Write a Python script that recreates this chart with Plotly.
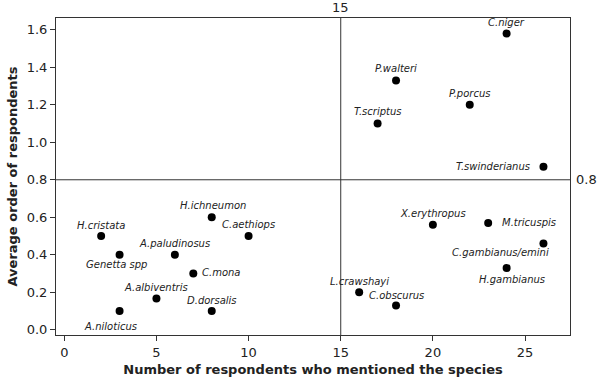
import plotly.graph_objects as go

species = ["C.niger", "P.walteri", "P.porcus", "T.scriptus", "T.swinderianus",
           "X.erythropus", "M.tricuspis", "C.gambianus/emini", "H.gambianus",
           "L.crawshayi", "C.obscurus", "H.cristata", "Genetta spp",
           "A.paludinosus", "H.ichneumon", "C.aethiops", "C.mona",
           "A.albiventris", "D.dorsalis", "A.niloticus"]
respondents = [24, 18, 22, 17, 26, 20, 23, 26, 24, 16, 18, 2, 3, 6, 8, 10, 7, 5, 8, 3]
avg_order = [1.58, 1.33, 1.20, 1.10, 0.87, 0.56, 0.57, 0.46, 0.33, 0.20, 0.13,
             0.50, 0.40, 0.40, 0.60, 0.50, 0.30, 0.167, 0.10, 0.10]

x_ticks = [0, 5, 10, 15, 20, 25]
y_ticks = [0.0, 0.2, 0.4, 0.6, 0.8, 1.0, 1.2, 1.4, 1.6]
x_ref = 15
y_ref = 0.8

# label placement: (xanchor, xshift, yshift)
label_pos = {
    "C.niger": ("center", 0, 11),
    "P.walteri": ("center", 0, 12),
    "P.porcus": ("center", 0, 11),
    "T.scriptus": ("center", 0, 12),
    "T.swinderianus": ("right", -11, 0),
    "X.erythropus": ("center", 0, 11),
    "M.tricuspis": ("left", 12, 0),
    "C.gambianus/emini": ("right", 8, -9),
    "H.gambianus": ("center", 5, -12),
    "L.crawshayi": ("center", 0, 11),
    "C.obscurus": ("center", 0, 10),
    "H.cristata": ("center", 0, 11),
    "Genetta spp": ("center", -3, -10),
    "A.paludinosus": ("center", 0, 11),
    "H.ichneumon": ("center", 1, 12),
    "C.aethiops": ("center", 0, 12),
    "C.mona": ("left", 7, 1),
    "A.albiventris": ("center", 0, 11),
    "D.dorsalis": ("center", 0, 11),
    "A.niloticus": ("center", -9, -15),
}

FONT = "DejaVu Sans"
AX = "#333333"
TXT = "#222222"

fig = go.Figure()
fig.add_trace(go.Scatter(
    x=respondents, y=avg_order, mode="markers",
    marker=dict(color="black", size=8),
    hoverinfo="skip", showlegend=False,
))

annotations = []
for name, xv, yv in zip(species, respondents, avg_order):
    xa, dx, dy = label_pos[name]
    annotations.append(dict(
        x=xv, y=yv, xref="x", yref="y", text="<i>%s</i>" % name,
        showarrow=False, xanchor=xa, yanchor="middle", xshift=dx, yshift=dy,
        font=dict(family=FONT, size=10, color=TXT),
    ))
annotations.append(dict(x=x_ref, y=1, xref="x", yref="paper", text=str(x_ref),
                        showarrow=False, xanchor="center", yanchor="bottom", yshift=1,
                        font=dict(family=FONT, size=13, color=TXT)))
annotations.append(dict(x=1, y=y_ref, xref="paper", yref="y", text=str(y_ref),
                        showarrow=False, xanchor="left", yanchor="middle", xshift=4,
                        font=dict(family=FONT, size=13, color=TXT)))

fig.update_layout(
    width=600, height=380,
    margin=dict(l=56, r=30, t=18, b=45, autoexpand=False),
    paper_bgcolor="white", plot_bgcolor="white",
    font=dict(family=FONT, color=TXT),
    annotations=annotations,
    shapes=[
        dict(type="line", xref="x", yref="paper", x0=x_ref, x1=x_ref, y0=0, y1=1,
             line=dict(color=AX, width=1)),
        dict(type="line", xref="paper", yref="y", x0=0, x1=1, y0=y_ref, y1=y_ref,
             line=dict(color=AX, width=1)),
    ],
    xaxis=dict(
        range=[-0.45, 27.44], tickvals=x_ticks, ticktext=[str(v) for v in x_ticks],
        showgrid=False, zeroline=False, showline=True, mirror=True, automargin=False,
        linecolor=AX, linewidth=1, ticks="outside", ticklen=5, tickcolor=AX,
        tickfont=dict(family=FONT, size=13, color=TXT),
        title=dict(text="<b>Number of respondents who mentioned the species</b>",
                   font=dict(family=FONT, size=13, color=TXT), standoff=6),
    ),
    yaxis=dict(
        range=[-0.028, 1.663], tickvals=y_ticks, ticktext=["%.1f" % v for v in y_ticks],
        showgrid=False, zeroline=False, showline=True, mirror=True, automargin=False,
        linecolor=AX, linewidth=1, ticks="outside", ticklen=5, tickcolor=AX,
        tickfont=dict(family=FONT, size=13, color=TXT),
        title=dict(text="<b>Average order of respondents</b>",
                   font=dict(family=FONT, size=13, color=TXT), standoff=6),
    ),
)

fig.write_html("out.html", config={"displayModeBar": False, "staticPlot": True},
               post_script="document.body.style.margin='0';document.body.style.padding='0';")
